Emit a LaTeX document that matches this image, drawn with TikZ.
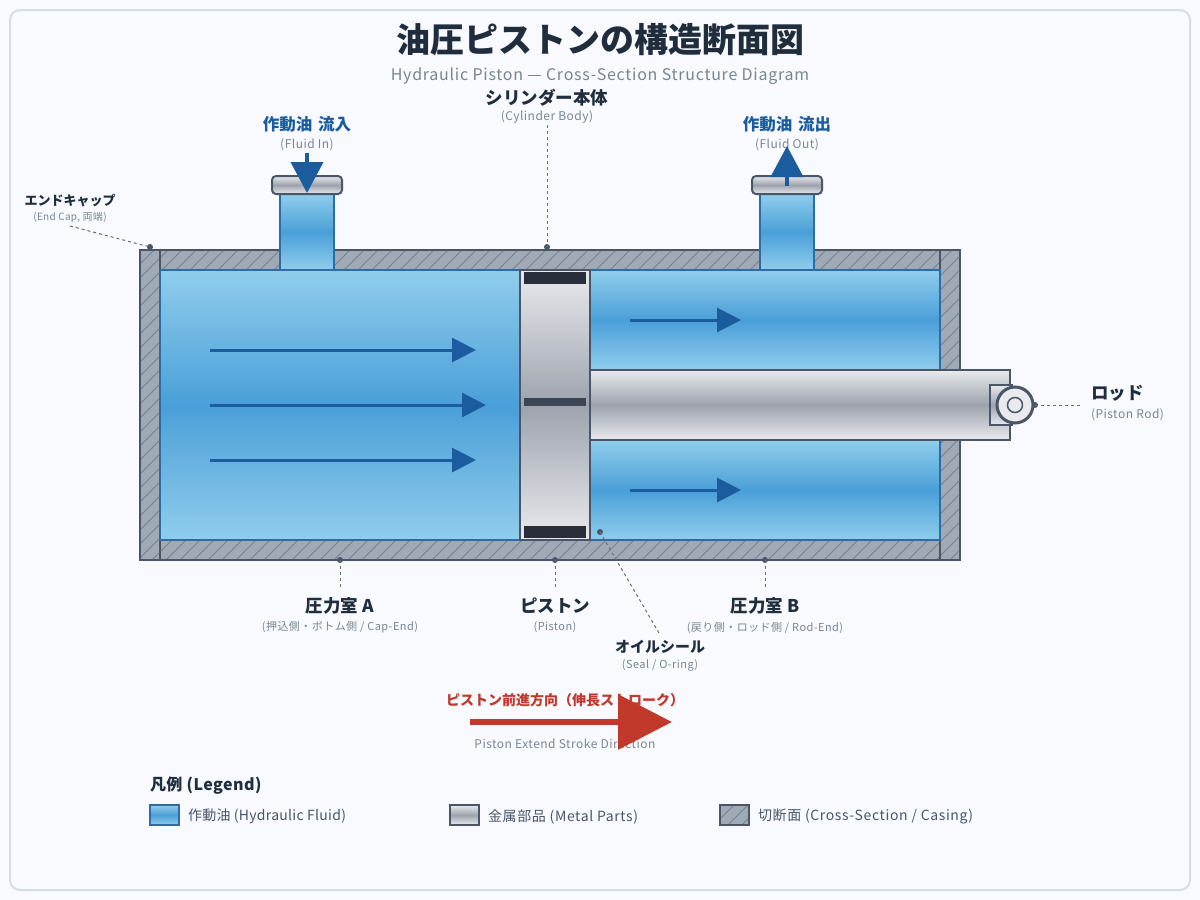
\documentclass[tikz,border=0pt]{standalone}
\usepackage{fontspec}
\setmainfont{Noto Sans CJK JP}
\usetikzlibrary{arrows.meta}
\definecolor{ink}{HTML}{1F2D3D}
\definecolor{muted}{HTML}{7A8591}
\definecolor{steel}{HTML}{4A5568}
\definecolor{leaderc}{HTML}{667080}
\definecolor{oilL}{HTML}{90CDEC}
\definecolor{oilM}{HTML}{4A9FD8}
\definecolor{oilEdge}{HTML}{2E6DA4}
\definecolor{flowblue}{HTML}{1A5C9E}
\definecolor{metalL}{HTML}{E8EAED}
\definecolor{metalM}{HTML}{9DA2AD}
\definecolor{cut}{HTML}{A0A9B6}
\definecolor{hatch}{HTML}{77828F}
\definecolor{sealc}{HTML}{2A2D3A}
\definecolor{sealmid}{HTML}{3D4452}
\definecolor{thrust}{HTML}{C0392B}
\definecolor{card}{HTML}{F8FAFF}
\definecolor{cardedge}{HTML}{D8DCE4}
\newcommand{\fs}[1]{\fontsize{#1}{#1}\selectfont}
\newcommand{\spaced}[1]{\addfontfeatures{LetterSpace=#1}}
\tikzset{
  x=1pt,y=-1pt,
  txt/.style={inner sep=0pt,outer sep=0pt,align=center},
  head/.style={txt,text=ink,font=\fs{17.5}\bfseries},
  sub/.style={txt,text=muted,font=\fs{11}\spaced{4}},
  subl/.style={txt,text=muted,font=\fs{12}\spaced{4}},
  inflow/.style={txt,text=flowblue,font=\fs{16.5}\bfseries},
  legtxt/.style={txt,text=steel,font=\fs{14}\spaced{4.5},anchor=west},
  oil/.style={top color=oilL,bottom color=oilL,middle color=oilM},
  metal/.style={top color=metalL,bottom color=metalL,middle color=metalM},
  leader/.style={draw=leaderc,line width=1pt,dash pattern=on 3pt off 3pt},
  pin/.style={circle,fill=steel,inner sep=0pt,minimum size=6pt},
  flow/.style={draw=flowblue,line width=3pt,-{Triangle[length=24pt,width=24pt,fill=flowblue]}},
  portflow/.style={draw=flowblue,line width=4pt,-{Triangle[length=31pt,width=32pt,fill=flowblue]}},
}
\begin{document}
\begin{tikzpicture}
\useasboundingbox (0,0) rectangle (1200,900);
\fill[card] (0,0) rectangle (1200,900);
\draw[fill=card,draw=cardedge,line width=2pt,rounded corners=10pt] (10,10) rectangle (1190,890);

% headings
\node[txt,text=ink,font=\fs{34}\bfseries] (title) at (600,40) {油圧ピストンの構造断面図};
\node[txt,text=muted,font=\fs{16}\spaced{4.6}] (subtitle) at (600,76) {Hydraulic Piston — Cross-Section Structure Diagram};

% casing: hatched block, fluid chambers laid over it
\begin{scope}
  \clip (140,250) rectangle (960,560);
  \fill[cut] (140,250) rectangle (960,560);
  \foreach \k in {0,...,82} \draw[hatch,line width=1pt] (140+14*\k,250) -- ++(-310,310);
\end{scope}
\draw[steel,line width=2pt] (140,250) rectangle (960,560);
\draw[steel,line width=2pt] (160,250) -- (160,560) (940,250) -- (940,560);

% pressure chambers
\shade[oil] (160,270) rectangle (520,540);
\shade[oil] (590,270) rectangle (940,370);
\shade[oil] (590,440) rectangle (940,540);
\draw[oilEdge,line width=1.5pt] (160,270) rectangle (520,540);
\draw[oilEdge,line width=1.5pt] (590,270) rectangle (940,540);

% ports
\shade[oil] (280,194) rectangle (334,270);
\draw[oilEdge,line width=1.5pt] (280,194) rectangle (334,270);
\shade[oil] (760,194) rectangle (814,270);
\draw[oilEdge,line width=1.5pt] (760,194) rectangle (814,270);
\draw[metal,draw=steel,line width=2pt,rounded corners=4pt] (272,176) rectangle (342,194);
\draw[metal,draw=steel,line width=2pt,rounded corners=4pt] (752,176) rectangle (822,194);

% piston with its seals
\shade[metal] (520,270) rectangle (590,540);
\draw[steel,line width=2.5pt] (520,270) rectangle (590,540);
\fill[sealc] (524,272) rectangle (586,284);
\fill[sealmid] (524,398) rectangle (586,406);
\fill[sealc] (524,526) rectangle (586,538);

% rod and clevis
\draw[metal,draw=steel,line width=2pt] (590,370) rectangle (1010,440);
\draw[draw=steel,line width=2pt,metal] (990,385) rectangle (1012,425);
\node[circle,draw=steel,line width=3pt,fill=metalL,minimum size=36pt,inner sep=0pt] (eye) at (1015,405) {};
\node[circle,draw=steel,line width=1.5pt,fill=metalL,minimum size=15pt,inner sep=0pt] (pinhole) at (1015,405) {};

% fluid flow arrows
\coordinate (a1s) at (210,350); \coordinate (a1e) at (476,350);
\coordinate (a2s) at (210,405); \coordinate (a2e) at (486,405);
\coordinate (a3s) at (210,460); \coordinate (a3e) at (476,460);
\coordinate (b1s) at (630,320); \coordinate (b1e) at (741,320);
\coordinate (b2s) at (630,490); \coordinate (b2e) at (741,490);
\draw[flow] (a1s) -- (a1e);
\draw[flow] (a2s) -- (a2e);
\draw[flow] (a3s) -- (a3e);
\draw[flow] (b1s) -- (b1e);
\draw[flow] (b2s) -- (b2e);

% upper labels
\node[head] (cyl) at (547,98) {シリンダー本体};
\node[subl] (cylsub) at (547,117) {(Cylinder Body)};
\node[inflow] (inlab) at (307,124) {作動油\hspace{2pt} 流入};
\node[subl] (insub) at (307,145) {(Fluid In)};
\node[inflow] (outlab) at (787,124) {作動油\hspace{2pt} 流出};
\node[subl] (outsub) at (787,145) {(Fluid Out)};
\node[head,font=\fs{13}\bfseries] (cap) at (70,200.5) {エンドキャップ};
\node[sub,font=\fs{10}\spaced{3}] (capsub) at (70,217.5) {(End Cap, 両端)};

% port arrows
\coordinate (ins) at (307,153); \coordinate (ine) at (307,193);
\coordinate (outs) at (787,186); \coordinate (oute) at (787,146);
\draw[portflow] (ins) -- (ine);
\draw[portflow] (outs) -- (oute);

% lower labels
\node[head] (cha) at (340,606) {圧力室 A};
\node[sub] (chasub) at (340,627.5) {(押込側・ボトム側 / Cap-End)};
\node[head] (pis) at (555,606) {ピストン};
\node[sub] (pissub) at (555,627.5) {(Piston)};
\node[head] (chb) at (765,606) {圧力室 B};
\node[sub] (chbsub) at (765,627.5) {(戻り側・ロッド側 / Rod-End)};
\node[head,font=\fs{15}\bfseries] (seal) at (660,646.5) {オイルシール};
\node[sub] (sealsub) at (660,665.5) {(Seal / O-ring)};
\node[head,anchor=west] (rod) at (1091,393.5) {ロッド};
\node[subl,anchor=west] (rodsub) at (1091,415) {(Piston Rod)};

% leader lines
\node[pin] (pcap) at (150,247) {};
\node[pin] (pcyl) at (547,247) {};
\node[pin] (pcha) at (340,560) {};
\node[pin] (ppis) at (555,560) {};
\node[pin] (pchb) at (765,560) {};
\node[pin] (pseal) at (600,532) {};
\node[pin] (prod) at (1035,405) {};
\coordinate (lcap) at (70,226);
\coordinate (lcyl) at (547,125);
\coordinate (lcha) at (340,587);
\coordinate (lpis) at (555,587);
\coordinate (lchb) at (765,587);
\coordinate (lseal) at (659,633);
\coordinate (lrod) at (1080,405);
\draw[leader] (lcap) -- (pcap.center);
\draw[leader] (lcyl) -- (pcyl.center);
\draw[leader] (pcha.center) -- (lcha);
\draw[leader] (ppis.center) -- (lpis);
\draw[leader] (pchb.center) -- (lchb);
\draw[leader] (pseal.center) -- (lseal);
\draw[leader] (prod.center) -- (lrod);

% stroke direction
\node[txt,text=thrust,font=\fs{14}\bfseries] (dirlab) at (565,700) {ピストン前進方向（伸長ストローク）};
\node[txt,text=muted,font=\fs{12}\spaced{4}] (dirsub) at (565,744) {Piston Extend Stroke Direction};
\coordinate (ds) at (470,722); \coordinate (de) at (672,722);
\draw[draw=thrust,line width=6pt,-{Triangle[length=54pt,width=54pt,fill=thrust]}] (ds) -- (de);

% legend
\node[head,font=\fs{16}\bfseries\spaced{3},anchor=west] (leg) at (150,786) {凡例 (Legend)};
\shade[oil] (150,805) rectangle (179,825);
\draw[oilEdge,line width=1.5pt] (150,805) rectangle (179,825);
\node[legtxt,font=\fs{14}\spaced{2}] (l1) at (188,816.5) {作動油 (Hydraulic Fluid)};
\shade[metal] (450,805) rectangle (479,825);
\draw[steel,line width=1.5pt] (450,805) rectangle (479,825);
\node[legtxt] (l2) at (488,816.5) {金属部品 (Metal Parts)};
\begin{scope}
  \clip (720,805) rectangle (749,825);
  \fill[cut] (720,805) rectangle (749,825);
  \foreach \k in {0,...,4} \draw[hatch,line width=1pt] (720+14*\k,805) -- ++(-20,20);
\end{scope}
\draw[steel,line width=1.5pt] (720,805) rectangle (749,825);
\node[legtxt] (l3) at (758,816.5) {切断面 (Cross-Section / Casing)};
\end{tikzpicture}
\end{document}
